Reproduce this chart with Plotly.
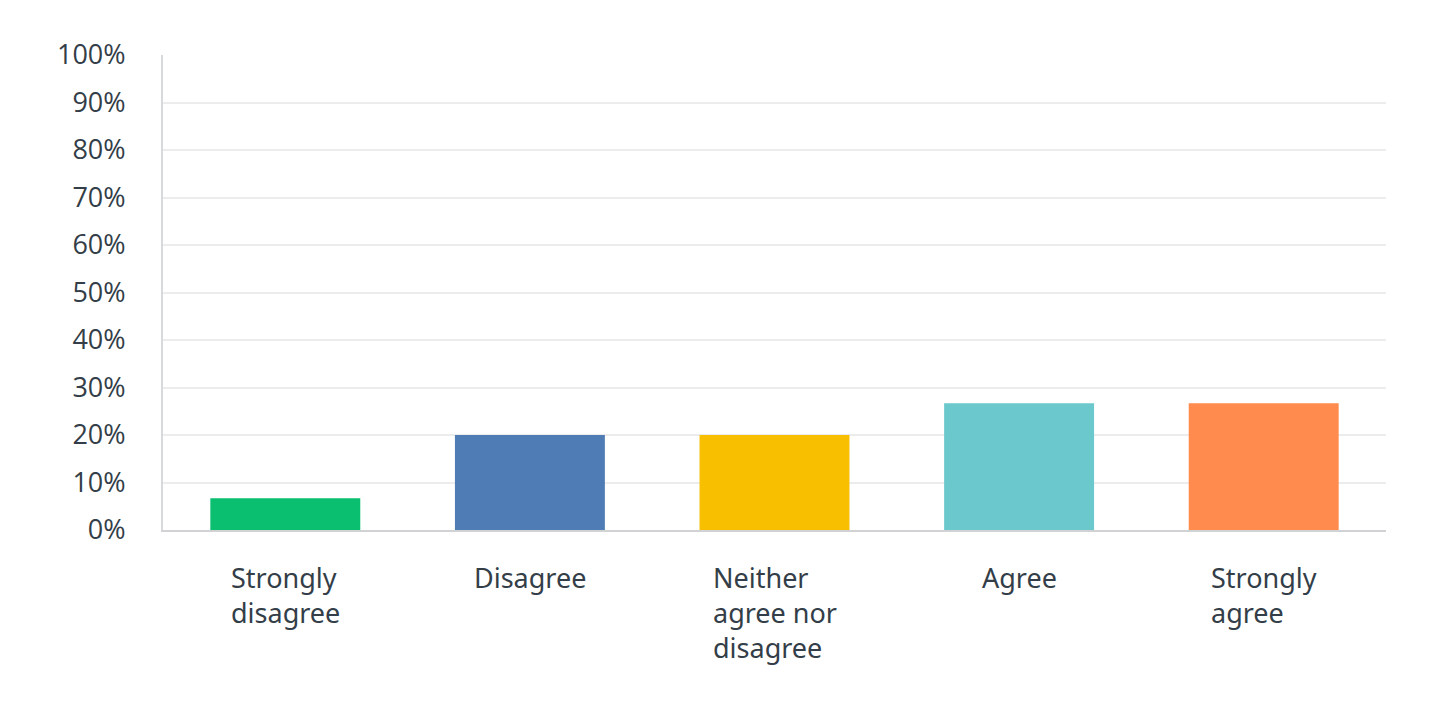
import plotly.graph_objects as go

categories = ["Strongly disagree", "Disagree", "Neither agree nor disagree", "Agree", "Strongly agree"]
label_lines = ["Strongly<br>disagree", "Disagree", "Neither<br>agree nor<br>disagree", "Agree", "Strongly<br>agree"]
values = [6.67, 20.0, 20.0, 26.67, 26.67]
colors = ["#0abf6f", "#507cb6", "#f8be00", "#6bc8cc", "#ff8b4f"]
tick_vals = [0, 10, 20, 30, 40, 50, 60, 70, 80, 90, 100]
tick_text = [f"{v}%" for v in tick_vals]

TEXT = "#333e48"

fig = go.Figure()
fig.add_trace(go.Bar(
    x=categories, y=values, marker=dict(color=colors, line=dict(width=0)),
    width=0.613, hoverinfo="x+y",
))

for cat, lab in zip(categories, label_lines):
    fig.add_annotation(
        x=cat, xref="x", y=0, yref="paper", yanchor="top", xanchor="center",
        text=lab, align="left", showarrow=False, yshift=-27,
        font=dict(family="Noto Sans, Roboto, sans-serif", size=27, color=TEXT),
    )

fig.update_layout(
    width=1421, height=704,
    margin=dict(l=155, r=43, t=47, b=182),
    plot_bgcolor="white", paper_bgcolor="white",
    showlegend=False,
    bargap=0.387,
)
fig.update_xaxes(
    showticklabels=False, showline=True, linecolor="#d0d2d3", linewidth=2,
    showgrid=False, zeroline=False,
)
fig.update_yaxes(
    range=[0, 100], tickvals=tick_vals, ticktext=tick_text,
    showgrid=True, gridcolor="#ececec", gridwidth=2,
    showline=True, linecolor="#d8d9da", linewidth=2,
    zeroline=False, ticklabelstandoff=30,
    tickfont=dict(family="Open Sans, sans-serif", size=27, color=TEXT),
)

fig.write_html("out.html")
